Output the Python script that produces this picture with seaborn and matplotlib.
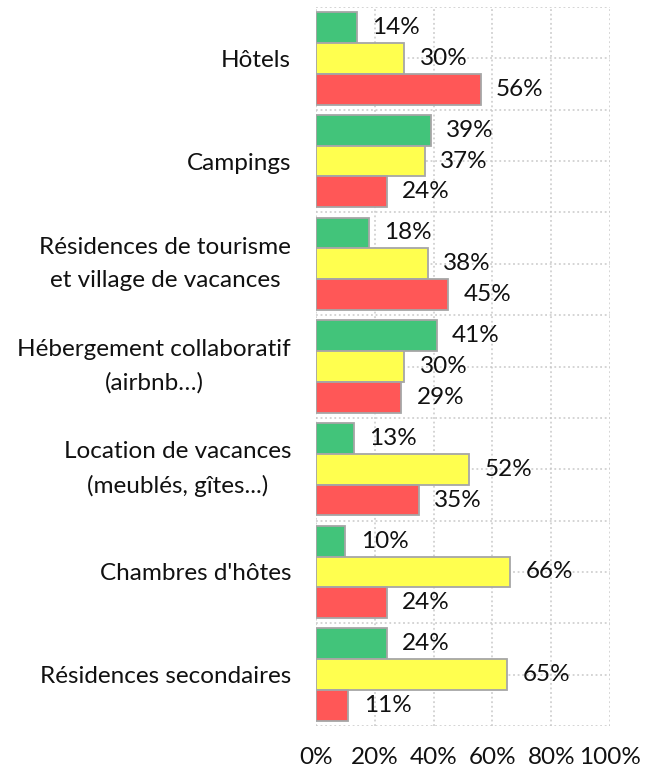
import matplotlib
matplotlib.use("Agg")
import matplotlib.pyplot as plt
import seaborn as sns
import pandas as pd
import numpy as np

categories = ["Hôtels", "Campings", "Résidences de tourisme\net village de vacances",
              "Hébergement collaboratif\n(airbnb…)", "Location de vacances\n(meublés, gîtes...)",
              "Chambres d'hôtes", "Résidences secondaires"]
series = ["Série 1", "Série 2", "Série 3"]
green_vals = [14, 39, 18, 41, 13, 10, 24]
yellow_vals = [30, 37, 38, 30, 52, 66, 65]
red_vals = [56, 24, 45, 29, 35, 24, 11]
x_ticks = [0, 20, 40, 60, 80, 100]
x_ticklabels = ["0%", "20%", "40%", "60%", "80%", "100%"]

colors = ["#42C47A", "#FFFF4F", "#FF5757"]

rows = []
for vals, s in zip([green_vals, yellow_vals, red_vals], series):
    for c, v in zip(categories, vals):
        rows.append({"cat": c, "serie": s, "val": v})
df = pd.DataFrame(rows)

sns.set_theme(style="white")
plt.rcParams["font.family"] = ["Lato", "DejaVu Sans"]

fig = plt.figure(figsize=(6.53, 7.71), dpi=100)
ax = fig.add_axes([316/653, 1-726/771, (610-316)/653, (726-7)/771])

sns.barplot(data=df, x="val", y="cat", hue="serie", orient="h", order=categories,
            hue_order=series, palette=colors, saturation=1, width=0.9,
            edgecolor="#A6A6A6", linewidth=1.3, legend=False, ax=ax, zorder=3)

ax.set_xlim(0, 100)
ax.set_ylim(6.5, -0.5)
ax.set_xticks(x_ticks)
ax.set_xticklabels(x_ticklabels)
ax.set_xlabel("")
ax.set_ylabel("")

gc = "#C9C9C9"
for xv in x_ticks:
    ax.axvline(xv, color=gc, linestyle=(0, (1.2, 1.8)), linewidth=1.1, zorder=1)
for yv in np.arange(-0.5, 6.51, 0.5):
    ax.axhline(yv, color=gc, linestyle=(0, (1.2, 1.8)), linewidth=1.1, zorder=1)

for s in ax.spines.values():
    s.set_visible(False)

fs = 17.5
ax.tick_params(axis="x", length=0, pad=15, labelsize=fs, colors="#111111")
ax.tick_params(axis="y", length=0, pad=18, labelsize=fs, colors="#111111")
for lab in ax.get_yticklabels():
    lab.set_horizontalalignment("right")
    lab.set_multialignment("center")
    lab.set_linespacing(1.7)
    if "\n" in lab.get_text():
        lab.set_verticalalignment("center")

for cont in ax.containers:
    ax.bar_label(cont, labels=[f"{int(round(w))}%" for w in cont.datavalues],
                 padding=11, fontsize=fs, color="#111111")

fig.savefig("out.png", dpi=100)
